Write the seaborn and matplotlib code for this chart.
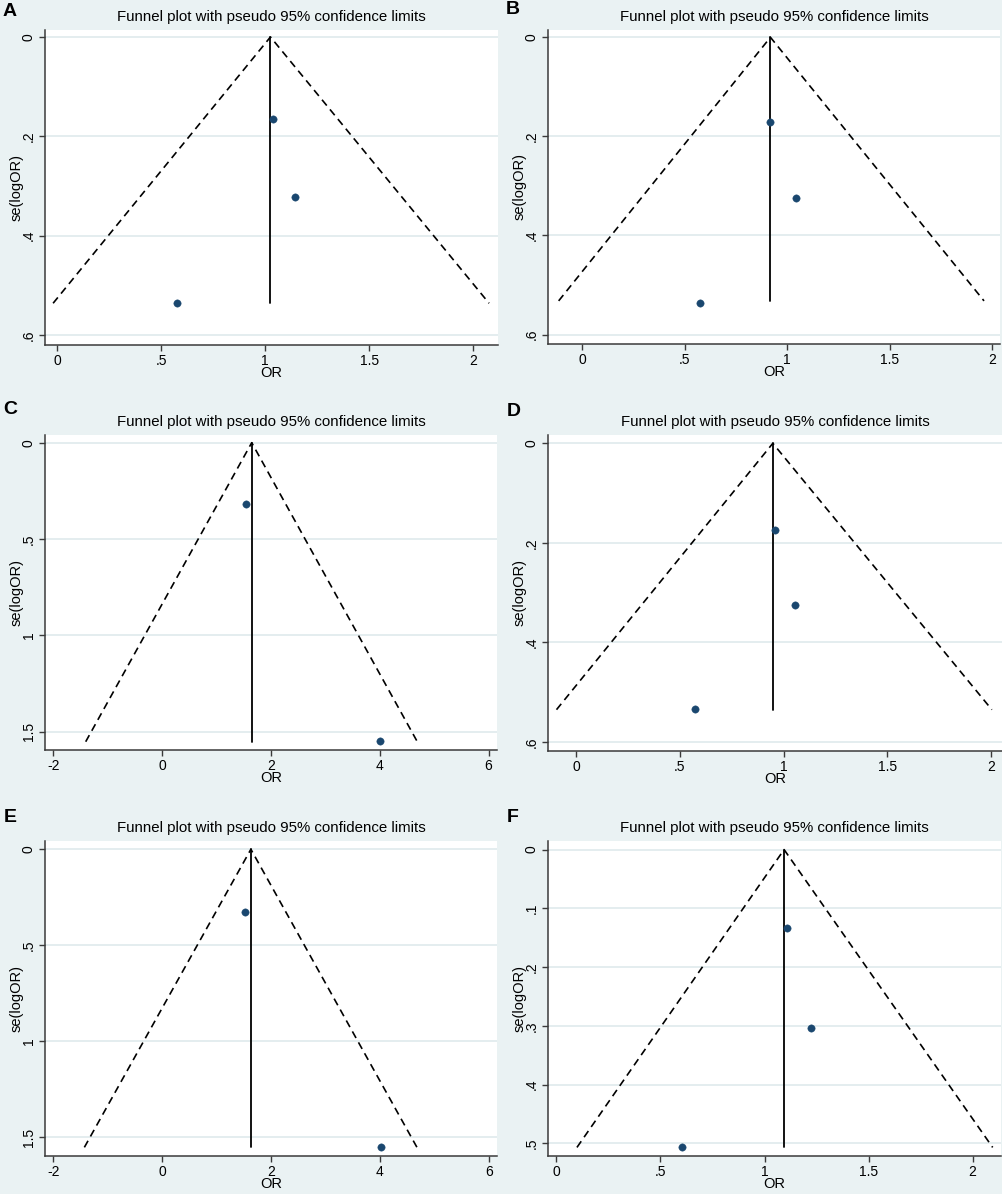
import matplotlib
matplotlib.use("Agg")
import matplotlib.pyplot as plt
import seaborn as sns
import pandas as pd

# ---------------- data ----------------
panel_letters = ["A", "B", "C", "D", "E", "F"]

pooled_or = [1.025, 0.918, 1.647, 0.948, 1.629, 1.094]
se_max = [0.536, 0.532, 1.552, 0.535, 1.552, 0.507]
lower_limit = [-0.021, -0.116, -1.405, -0.096, -1.430, 0.099]
upper_limit = [2.077, 1.961, 4.691, 2.005, 4.680, 2.096]

study_or_A = [1.037, 1.141, 0.573]
study_se_A = [0.1645, 0.3215, 0.5355]
study_or_B = [0.918, 1.045, 0.573]
study_se_B = [0.171, 0.325, 0.536]
study_or_C = [1.536, 4.000]
study_se_C = [0.320, 1.548]
study_or_D = [0.959, 1.057, 0.573]
study_se_D = [0.174, 0.324, 0.534]
study_or_E = [1.524, 4.024]
study_se_E = [0.326, 1.549]
study_or_F = [1.106, 1.221, 0.604]
study_se_F = [0.134, 0.304, 0.506]

xticks_small = [0, 0.5, 1, 1.5, 2]
xticklabels_small = ["0", ".5", "1", "1.5", "2"]
xticks_wide = [-2, 0, 2, 4, 6]
xticklabels_wide = ["-2", "0", "2", "4", "6"]
yticks_06 = [0, 0.2, 0.4, 0.6]
yticklabels_06 = ["0", ".2", ".4", ".6"]
yticks_15 = [0, 0.5, 1, 1.5]
yticklabels_15 = ["0", ".5", "1", "1.5"]
yticks_05 = [0, 0.1, 0.2, 0.3, 0.4, 0.5]
yticklabels_05 = ["0", ".1", ".2", ".3", ".4", ".5"]

title_text = "Funnel plot with pseudo 95% confidence limits"
xlabel_text = "OR"
ylabel_text = "se(logOR)"

# ---------------- layout / style ----------------
W, H = 1003, 1194
BG = "#EAF2F3"
GRID = "#E2ECEE"
NAVY = "#1A476F"
AXC = "#3a3a3a"

sns.set_theme(style="white")
plt.rcParams["font.family"] = ["Liberation Sans", "DejaVu Sans"]

fig = plt.figure(figsize=(W / 100, H / 100), dpi=100, facecolor=BG)

# pixel rects (left, top, right, bottom) of each plot region
rects = [
    (45, 30, 498, 345),
    (548, 30, 1000, 344),
    (45, 435, 497, 750),
    (548, 435, 1002, 751),
    (45, 841, 497, 1156),
    (548, 841, 1001, 1156),
]
xlims = [(-0.06, 2.12), (-0.168, 2.039), (-2.153, 6.156),
         (-0.137, 2.054), (-2.153, 6.15), (-0.04, 2.136)]
ylims = [(-0.014, 0.62), (-0.0147, 0.619), (-0.04, 1.595),
         (-0.0167, 0.618), (-0.043, 1.597), (-0.0146, 0.5216)]
letter_pos = [(10, 11), (513, 10), (10, 410), (514, 411), (10, 817), (513, 818)]

study_or = [study_or_A, study_or_B, study_or_C, study_or_D, study_or_E, study_or_F]
study_se = [study_se_A, study_se_B, study_se_C, study_se_D, study_se_E, study_se_F]
xt = [(xticks_small, xticklabels_small), (xticks_small, xticklabels_small),
      (xticks_wide, xticklabels_wide), (xticks_small, xticklabels_small),
      (xticks_wide, xticklabels_wide), (xticks_small, xticklabels_small)]
yt = [(yticks_06, yticklabels_06), (yticks_06, yticklabels_06),
      (yticks_15, yticklabels_15), (yticks_06, yticklabels_06),
      (yticks_15, yticklabels_15), (yticks_05, yticklabels_05)]

for i, letter in enumerate(panel_letters):
    l, t, r, b = rects[i]
    wpx, hpx = r - l, b - t
    ax = fig.add_axes([l / W, 1 - b / H, wpx / W, hpx / H])
    ax.set_facecolor("white")

    for y in yt[i][0]:
        ax.axhline(y, color=GRID, lw=1.3, zorder=0)

    funnel = pd.DataFrame({
        "OR": [lower_limit[i], pooled_or[i], upper_limit[i]],
        "se": [se_max[i], 0.0, se_max[i]],
    })
    sns.lineplot(data=funnel, x="OR", y="se", ax=ax, sort=False, estimator=None,
                 color="black", lw=1.2, dashes=False, linestyle=(0, (4.5, 3)), zorder=2)
    vline = pd.DataFrame({"OR": [pooled_or[i], pooled_or[i]], "se": [0.0, se_max[i]]})
    sns.lineplot(data=vline, x="OR", y="se", ax=ax, sort=False, estimator=None,
                 color="black", lw=1.3, zorder=2)

    pts = pd.DataFrame({"OR": study_or[i], "se": study_se[i]})
    sns.scatterplot(data=pts, x="OR", y="se", ax=ax, color=NAVY, s=28,
                    edgecolor=NAVY, linewidth=0.3, zorder=3)

    ax.set_xlim(*xlims[i])
    ax.set_ylim(ylims[i][1], ylims[i][0])
    ax.set_xticks(xt[i][0])
    ax.set_xticklabels(xt[i][1])
    ax.set_yticks(yt[i][0])
    ax.set_yticklabels(yt[i][1], rotation=90, va="center")

    for side in ["top", "right"]:
        ax.spines[side].set_visible(False)
    for side in ["left", "bottom"]:
        ax.spines[side].set_visible(True)
        ax.spines[side].set_color(AXC)
        ax.spines[side].set_linewidth(1.1)
    ax.tick_params(axis="both", which="major", direction="out", length=4,
                   width=1.0, color=AXC, labelsize=10, labelcolor="black",
                   bottom=True, left=True)
    ax.tick_params(axis="x", pad=2.5)
    ax.tick_params(axis="y", pad=2.5)
    ax.grid(False)

    ax.set_xlabel(xlabel_text, fontsize=10.5, color="black")
    ax.set_ylabel(ylabel_text, fontsize=10.5, color="black")
    ax.xaxis.label.set_va("center")
    ax.yaxis.label.set_va("center")
    ax.xaxis.set_label_coords(0.5, -28 / hpx)
    ax.yaxis.set_label_coords(-28.5 / wpx, 0.5)

    fig.text((l + r) / 2 / W, 1 - (t - 13) / H, title_text, ha="center",
             va="center", fontsize=10.8, color="black")
    lx, ly = letter_pos[i]
    fig.text(lx / W, 1 - ly / H, letter, ha="center", va="center",
             fontsize=14, fontweight="bold", color="black")

fig.savefig("out.png", dpi=100, facecolor=BG)
